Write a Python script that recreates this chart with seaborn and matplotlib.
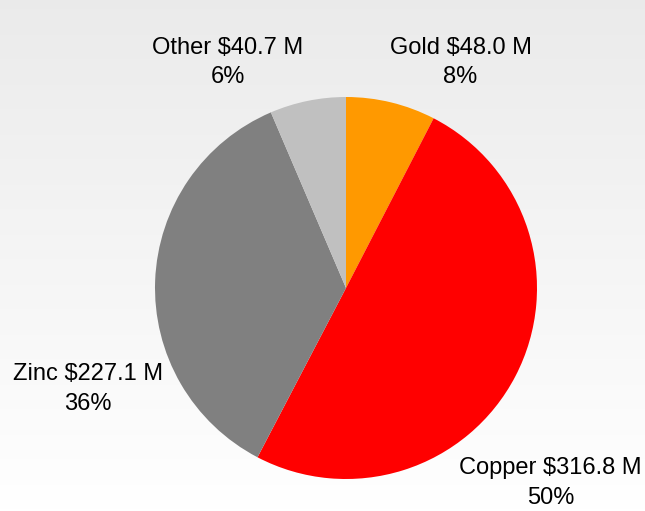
"""
Revenue by metal - pie chart
"""

import matplotlib
matplotlib.use("Agg")
import matplotlib.pyplot as plt
import seaborn as sns
import numpy as np

# Data
metals = ["Gold", "Copper", "Zinc", "Other"]
revenue = [48.0, 316.8, 227.1, 40.7]  # $ M
colors = ["#FF9900", "#FF0000", "#808080", "#C0C0C0"]

# label placement (axes data coords, pie radius = 1)
label_xy = [(0.60, 1.18), (1.07, -1.02), (-1.35, -0.53), (-0.62, 1.18)]

sns.set_theme(style="white")
plt.rcParams["font.family"] = ["Liberation Sans", "DejaVu Sans"]

W, H = 645, 511
fig = plt.figure(figsize=(W / 100, H / 100), dpi=100)

# Gradient background (light gray at top -> white at bottom)
bg = fig.add_axes([0, 0, 1, 1], zorder=0)
grad = np.linspace(0.92, 1.0, 256).reshape(-1, 1)
bg.imshow(np.dstack([grad, grad, grad]), aspect="auto", extent=[0, 1, 0, 1])
bg.axis("off")

# Pie axes: center (346, 288) px, radius ~191 px
cx, cy, r = 346, 288, 191
ax = fig.add_axes([(cx - r) / W, (H - cy - r) / H, 2 * r / W, 2 * r / H], zorder=1)
ax.patch.set_alpha(0)

ax.pie(
    revenue,
    colors=colors,
    startangle=90,
    counterclock=False,
    radius=1,
    wedgeprops={"linewidth": 0},
)
ax.set_xlim(-1, 1)
ax.set_ylim(-1, 1)
ax.axis("off")

total = sum(revenue)
for name, val, (x, y) in zip(metals, revenue, label_xy):
    pct = val / total * 100
    ax.text(
        x, y, f"{name} ${val:.1f} M\n{pct:.0f}%",
        ha="center", va="center", fontsize=17, color="black",
        linespacing=1.45, clip_on=False,
    )

plt.savefig("out.png", dpi=100)
